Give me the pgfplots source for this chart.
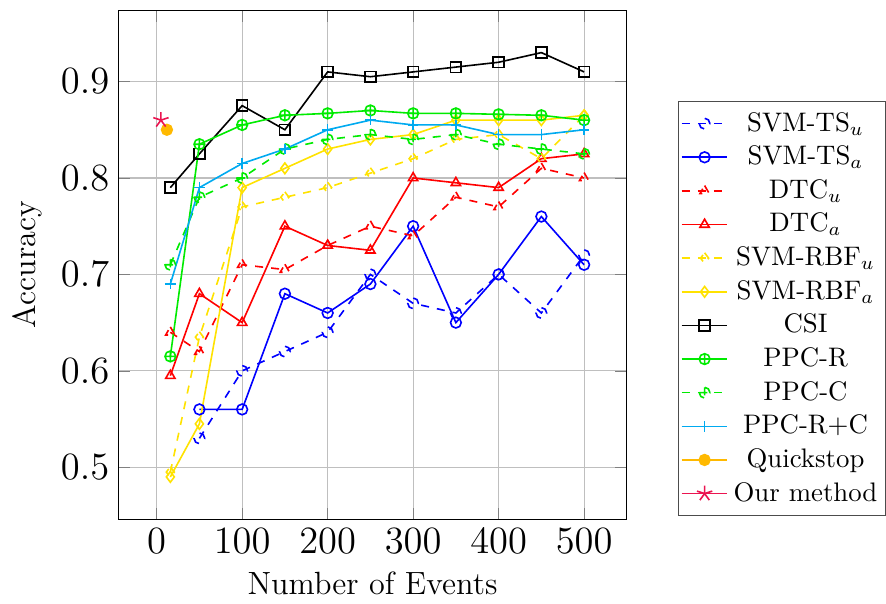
\documentclass[border=0pt]{standalone}
\usepackage{pgfplots}
\pgfplotsset{compat=1.18}
\definecolor{yel}{RGB}{255,226,0}
\definecolor{grn}{RGB}{0,235,0}
\definecolor{sky}{RGB}{0,170,240}
\definecolor{amber}{RGB}{255,185,0}
\definecolor{crim}{RGB}{235,20,80}
\begin{document}
\begin{tikzpicture}
\begin{axis}[
  scale only axis,
  width=189.5pt, height=190pt,
  xlabel={Number of Events},
  ylabel={Accuracy},
  label style={font=\large},
  tick label style={font=\fontsize{14}{16}\selectfont},
  grid=major,
  every axis plot/.append style={semithick},
  xtick={0,100,200,300,400,500},
  ytick={0.5,0.6,0.7,0.8,0.9},
  yticklabel style={/pgf/number format/fixed,/pgf/number format/precision=1},
  legend cell align=center,
  legend style={at={(1.101,0.006)}, anchor=south west, draw=black!70, inner xsep=1pt},
]
\addplot[blue, dashed, mark=o] coordinates {(50,0.53)(100,0.60)(150,0.62)(200,0.64)(250,0.70)(300,0.67)(350,0.66)(400,0.70)(450,0.66)(500,0.72)};
\addlegendentry{SVM-TS$_u$}
\addplot[blue, mark=o] coordinates {(50,0.56)(100,0.56)(150,0.68)(200,0.66)(250,0.69)(300,0.75)(350,0.65)(400,0.70)(450,0.76)(500,0.71)};
\addlegendentry{SVM-TS$_a$}
\addplot[red, dashed, mark=triangle] coordinates {(16,0.64)(50,0.62)(100,0.71)(150,0.705)(200,0.73)(250,0.75)(300,0.74)(350,0.78)(400,0.77)(450,0.81)(500,0.80)};
\addlegendentry{DTC$_u$}
\addplot[red, mark=triangle] coordinates {(16,0.595)(50,0.68)(100,0.65)(150,0.75)(200,0.73)(250,0.725)(300,0.80)(350,0.795)(400,0.79)(450,0.82)(500,0.825)};
\addlegendentry{DTC$_a$}
\addplot[yel, dashed, mark=diamond] coordinates {(16,0.495)(50,0.635)(100,0.77)(150,0.78)(200,0.79)(250,0.805)(300,0.82)(350,0.84)(400,0.845)(450,0.82)(500,0.865)};
\addlegendentry{SVM-RBF$_u$}
\addplot[yel, mark=diamond] coordinates {(16,0.49)(50,0.545)(100,0.79)(150,0.81)(200,0.83)(250,0.84)(300,0.845)(350,0.86)(400,0.86)(450,0.86)(500,0.865)};
\addlegendentry{SVM-RBF$_a$}
\addplot[black, mark=square] coordinates {(16,0.79)(50,0.825)(100,0.875)(150,0.85)(200,0.91)(250,0.905)(300,0.91)(350,0.915)(400,0.92)(450,0.93)(500,0.91)};
\addlegendentry{CSI}
\addplot[grn, mark=oplus] coordinates {(16,0.615)(50,0.835)(100,0.855)(150,0.865)(200,0.867)(250,0.87)(300,0.867)(350,0.867)(400,0.866)(450,0.865)(500,0.86)};
\addlegendentry{PPC-R}
\addplot[grn, dashed, mark=oplus] coordinates {(16,0.71)(50,0.78)(100,0.80)(150,0.83)(200,0.84)(250,0.845)(300,0.84)(350,0.845)(400,0.835)(450,0.83)(500,0.825)};
\addlegendentry{PPC-C}
\addplot[sky, mark=+] coordinates {(16,0.69)(50,0.79)(100,0.815)(150,0.83)(200,0.85)(250,0.86)(300,0.855)(350,0.855)(400,0.845)(450,0.845)(500,0.85)};
\addlegendentry{PPC-R+C}
\addplot[amber, mark=*] coordinates {(12,0.85)};
\addlegendentry{Quickstop}
\addplot[crim, mark=star, mark size=3pt] coordinates {(5,0.86)};
\addlegendentry{Our method}
\end{axis}
\path ([yshift=3.8pt]current axis.north) ;
\path (current bounding box.west) ++(-1.5pt,0) ;
\end{tikzpicture}
\end{document}
